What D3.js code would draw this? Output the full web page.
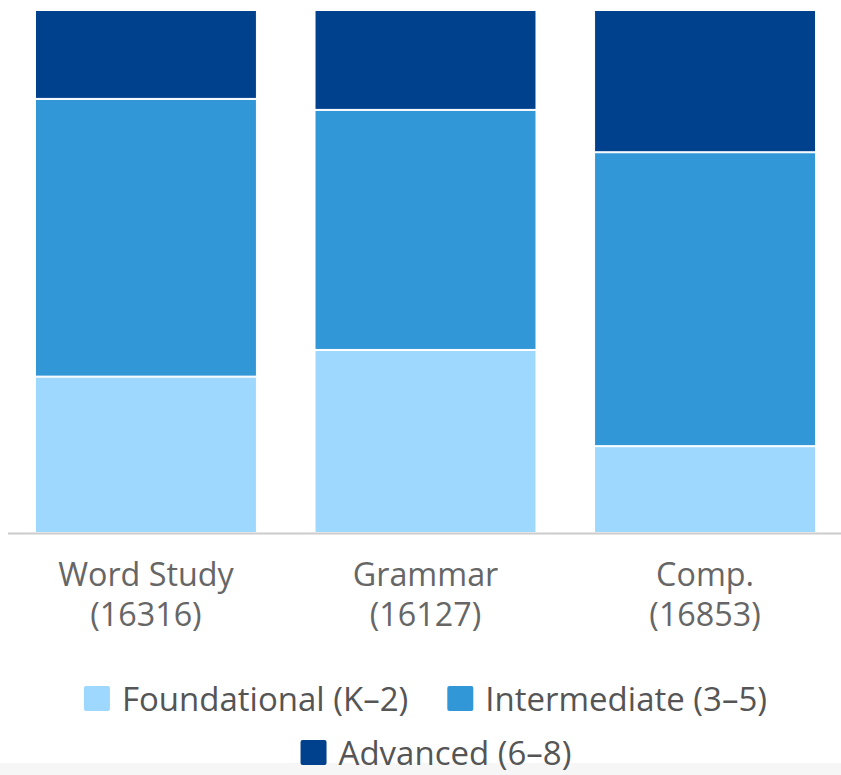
<!DOCTYPE html>
<html>
<head>
<meta charset="utf-8">
<script src="https://cdn.jsdelivr.net/npm/d3@7"></script>
<style>
  html, body { margin: 0; padding: 0; background: #fff; }
  svg { display: block; }
</style>
</head>
<body>
<svg id="chart" width="841" height="775"></svg>
<script>
// ---- data ----
const categories = ["Word Study", "Grammar", "Comp."];
const counts = ["(16316)", "(16127)", "(16853)"];
const seriesNames = ["Foundational (K\u20132)", "Intermediate (3\u20135)", "Advanced (6\u20138)"];
const foundational = [29.9, 35.0, 16.6];
const intermediate = [53.1, 45.9, 56.2];
const advanced = [17.0, 19.1, 27.2];
const colors = ["#9ed8fe", "#3197d7", "#00418e"];

const FONT = '"Open Sans"';
const svg = d3.select("#chart");
const W = 841, H = 775;

// bottom grey strip (page background)
svg.append("rect").attr("x", 0).attr("y", 763).attr("width", W).attr("height", H - 763).attr("fill", "#f6f6f6");

const rows = categories.map((c, i) => ({
  cat: c, f: foundational[i], m: intermediate[i], a: advanced[i]
}));
const stack = d3.stack().keys(["f", "m", "a"]).offset(d3.stackOffsetExpand);
const stacked = stack(rows);

const x = d3.scaleBand().domain(categories).range([7, 844]).paddingInner(0.206).paddingOuter(0.1);
const y = d3.scaleLinear().domain([0, 1]).range([533, 10]);

const g = svg.append("g");
stacked.forEach((layer, li) => {
  g.selectAll(null).data(layer).enter().append("rect")
    .attr("x", d => x(d.data.cat) + 0.5)
    .attr("width", x.bandwidth() - 1)
    .attr("y", d => y(d[1]) + 0.5)
    .attr("height", d => Math.max(0, y(d[0]) - y(d[1]) - 1))
    .attr("fill", colors[li])
    .attr("stroke", "#ffffff")
    .attr("stroke-width", 1);
});

// axis
const xAxis = d3.axisBottom(x).tickSize(0).tickFormat("");
const ax = svg.append("g").attr("transform", "translate(0,533.5)").call(xAxis);
ax.select(".domain").remove();
ax.append("line").attr("x1", 8).attr("x2", 841).attr("y1", 0).attr("y2", 0)
  .attr("stroke", "#cccccc").attr("stroke-width", 2);

ax.selectAll(".tick").each(function(d, i) {
  const t = d3.select(this).append("text")
    .attr("text-anchor", "middle")
    .attr("fill", "#666666")
    .style("font-family", FONT)
    .style("font-size", "32.3px");
  t.append("tspan").attr("x", 0).attr("y", 52).text(categories[i]);
  t.append("tspan").attr("x", 0).attr("y", 92).text(counts[i]);
});

// legend
const legendRows = [[0, 1], [2]];
const rowY = [711, 765];
const rowCenter = [425.5, 436];
const sw = 26, gapText = 12, gapItem = 39;
legendRows.forEach((items, r) => {
  const lg = svg.append("g");
  const groups = items.map(si => {
    const it = lg.append("g");
    it.append("rect").attr("x", 0).attr("y", -25).attr("width", sw).attr("height", 25)
      .attr("rx", 2).attr("fill", colors[si]);
    const tx = it.append("text").attr("x", sw + gapText).attr("y", 0)
      .attr("fill", "#555555").style("font-family", FONT).style("font-size", "33px").text(seriesNames[si]);
    const w = sw + gapText + tx.node().getComputedTextLength();
    return { it, w };
  });
  const total = groups.reduce((s, gg) => s + gg.w, 0) + gapItem * (groups.length - 1);
  let start = rowCenter[r] - total / 2;
  groups.forEach(gg => {
    gg.it.attr("transform", `translate(${start},${rowY[r]})`);
    start += gg.w + gapItem;
  });
});
</script>
</body>
</html>
